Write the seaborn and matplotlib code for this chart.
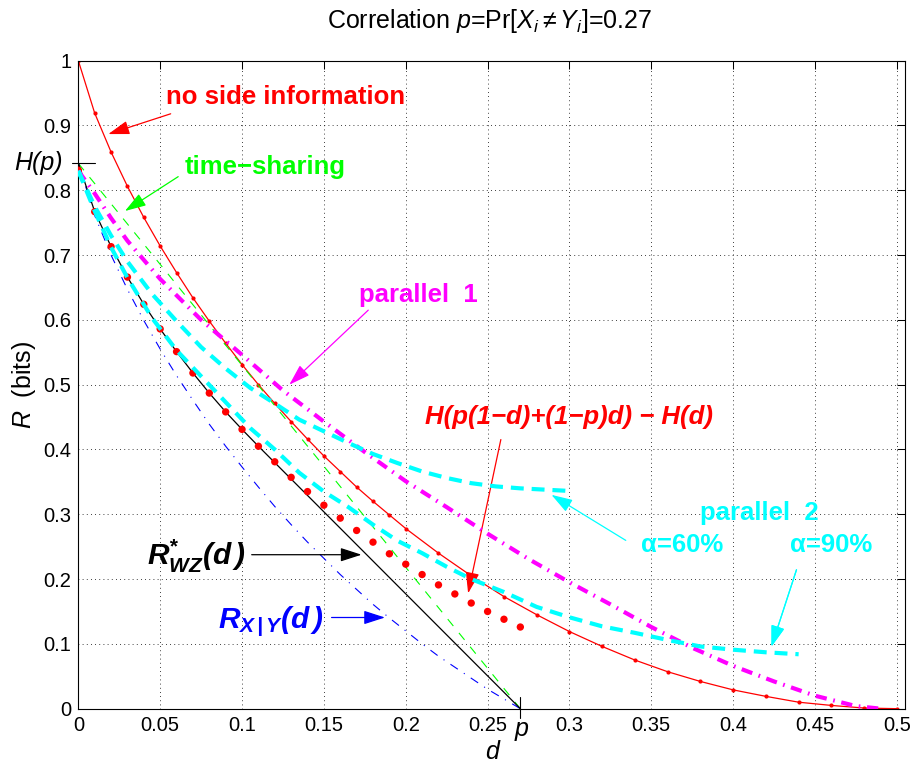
import matplotlib
matplotlib.use("Agg")
import matplotlib.pyplot as plt
import seaborn as sns

p = 0.27
Hp = 0.8415

# no side information: 1 - H(d)
d_noside = [0, 0.01, 0.02, 0.03, 0.04, 0.05, 0.06, 0.07, 0.08, 0.09, 0.10,
            0.11, 0.12, 0.13, 0.14, 0.15, 0.16, 0.17, 0.18, 0.19, 0.20,
            0.22, 0.24, 0.26, 0.28, 0.30, 0.32, 0.34, 0.36, 0.38, 0.40,
            0.42, 0.44, 0.46, 0.48, 0.50]
r_noside = [1.0, 0.919, 0.859, 0.806, 0.758, 0.714, 0.673, 0.634, 0.598, 0.564, 0.531,
            0.500, 0.471, 0.443, 0.416, 0.390, 0.366, 0.342, 0.320, 0.299, 0.278,
            0.240, 0.205, 0.173, 0.145, 0.119, 0.096, 0.075, 0.057, 0.042, 0.029,
            0.019, 0.010, 0.005, 0.001, 0.0]

# H(p(1-d)+(1-p)d) - H(d), big dots
d_g = [0.00, 0.01, 0.02, 0.03, 0.04, 0.05, 0.06, 0.07, 0.08, 0.09, 0.10, 0.11, 0.12, 0.13,
       0.14, 0.15, 0.16, 0.17, 0.18, 0.19, 0.20, 0.21, 0.22, 0.23, 0.24, 0.25, 0.26, 0.27]
r_g = [0.831, 0.767, 0.713, 0.666, 0.624, 0.586, 0.551, 0.518, 0.487, 0.458, 0.431, 0.405,
       0.381, 0.357, 0.335, 0.314, 0.294, 0.275, 0.257, 0.239, 0.223, 0.207, 0.191, 0.177,
       0.163, 0.150, 0.138, 0.126]

# R*_WZ(d)
d_wz = [0.00, 0.01, 0.02, 0.03, 0.04, 0.05, 0.06, 0.07, 0.08, 0.09, 0.10, 0.11, 0.27]
r_wz = [0.842, 0.767, 0.713, 0.666, 0.624, 0.586, 0.551, 0.518, 0.487, 0.458, 0.431, 0.405, 0.0]

# R_X|Y(d)
d_xy = [0.00, 0.01, 0.02, 0.03, 0.04, 0.05, 0.06, 0.07, 0.08, 0.09, 0.10, 0.11, 0.12, 0.13,
        0.14, 0.15, 0.16, 0.17, 0.18, 0.19, 0.20, 0.21, 0.22, 0.23, 0.24, 0.25, 0.26, 0.27]
r_xy = [0.842, 0.761, 0.700, 0.647, 0.599, 0.555, 0.514, 0.476, 0.439, 0.405, 0.373, 0.342,
        0.312, 0.284, 0.257, 0.232, 0.207, 0.184, 0.161, 0.140, 0.120, 0.100, 0.081, 0.064,
        0.047, 0.030, 0.015, 0.0]

# time-sharing
d_ts = [0.0, p]
r_ts = [Hp, 0.0]

# parallel 1
d_par1 = [0, 0.01, 0.02, 0.03, 0.05, 0.075, 0.10, 0.125, 0.15, 0.175, 0.20, 0.225,
          0.25, 0.275, 0.30, 0.325, 0.35, 0.375, 0.40, 0.425, 0.45, 0.475, 0.49]
r_par1 = [0.83, 0.795, 0.757, 0.722, 0.663, 0.600, 0.546, 0.491, 0.443, 0.396, 0.351, 0.311,
          0.270, 0.231, 0.195, 0.161, 0.126, 0.094, 0.066, 0.042, 0.020, 0.004, 0.0]

# parallel 2, alpha = 60%
d_par2a = [0, 0.01, 0.02, 0.03, 0.045, 0.06, 0.075, 0.09, 0.105, 0.12, 0.135, 0.15, 0.165,
           0.18, 0.195, 0.21, 0.225, 0.24, 0.255, 0.27, 0.285, 0.30]
r_par2a = [0.83, 0.775, 0.73, 0.69, 0.64, 0.598, 0.558, 0.525, 0.495, 0.471, 0.446, 0.428,
           0.410, 0.393, 0.379, 0.366, 0.356, 0.348, 0.343, 0.340, 0.338, 0.336]

# parallel 2, alpha = 90%
d_par2b = [0, 0.01, 0.02, 0.03, 0.045, 0.06, 0.075, 0.09, 0.105, 0.12, 0.135, 0.15, 0.165,
           0.18, 0.195, 0.21, 0.225, 0.24, 0.26, 0.28, 0.30, 0.32, 0.34, 0.36, 0.38, 0.40,
           0.42, 0.44]
r_par2b = [0.83, 0.768, 0.712, 0.665, 0.603, 0.553, 0.513, 0.473, 0.433, 0.400, 0.364, 0.335,
           0.311, 0.284, 0.259, 0.240, 0.219, 0.200, 0.180, 0.157, 0.141, 0.127, 0.117, 0.106,
           0.096, 0.091, 0.087, 0.084]

xticks = [0, 0.05, 0.1, 0.15, 0.2, 0.25, 0.3, 0.35, 0.4, 0.45, 0.5]
xticklabels = ["0", "0.05", "0.1", "0.15", "0.2", "0.25", "0.3", "0.35", "0.4", "0.45", "0.5"]
yticks = [0, 0.1, 0.2, 0.3, 0.4, 0.5, 0.6, 0.7, 0.8, 0.9, 1]
yticklabels = ["0", "0.1", "0.2", "0.3", "0.4", "0.5", "0.6", "0.7", "0.8", "0.9", "1"]


sns.set_style("white")
plt.rcParams["font.family"] = ["Liberation Sans", "DejaVu Sans"]
plt.rcParams["text.color"] = "black"
plt.rcParams["axes.labelcolor"] = "black"
plt.rcParams["xtick.color"] = "black"
plt.rcParams["ytick.color"] = "black"
plt.rcParams["mathtext.fontset"] = "custom"
plt.rcParams["mathtext.rm"] = "Liberation Sans"
plt.rcParams["mathtext.it"] = "Liberation Sans:italic"
plt.rcParams["mathtext.bf"] = "Liberation Sans:bold"
plt.rcParams["mathtext.bfit"] = "Liberation Sans:italic:bold"

fig = plt.figure(figsize=(9.14, 7.63), dpi=100)
ax = fig.add_axes([0.0857, 0.0712, 0.9045, 0.8493])

GREEN = (0, 1, 0)
CYAN = (0, 1, 1)
MAGENTA = (1, 0, 1)

sns.lineplot(x=d_noside, y=r_noside, ax=ax, color="red", lw=0.9, marker="o",
             markersize=3.0, markeredgewidth=0)
sns.lineplot(x=d_ts, y=r_ts, ax=ax, color=GREEN, lw=0.8, linestyle=(0, (8, 8)))
sns.lineplot(x=d_xy, y=r_xy, ax=ax, color="blue", lw=0.8, linestyle=(0, (8, 6.5, 1, 6.5)))
sns.lineplot(x=d_wz, y=r_wz, ax=ax, color="black", lw=0.9)
sns.scatterplot(x=d_g, y=r_g, ax=ax, color="red", s=28, edgecolor="none", zorder=3)
sns.lineplot(x=d_par1, y=r_par1, ax=ax, color=MAGENTA, lw=3,
             linestyle=(0, (2.7, 1.6, 0.4, 1.6)), zorder=4)
sns.lineplot(x=d_par2a, y=r_par2a, ax=ax, color=CYAN, lw=3, linestyle=(0, (3.1, 1.9)), zorder=4)
sns.lineplot(x=d_par2b, y=r_par2b, ax=ax, color=CYAN, lw=3, linestyle=(0, (3.1, 1.9)), zorder=4)

ax.set_xlim(0, 0.505)
ax.set_ylim(0, 1)
ax.set_xticks(xticks)
ax.set_xticklabels(xticklabels)
ax.set_yticks(yticks)
ax.set_yticklabels(yticklabels)
ax.tick_params(which="major", direction="in", length=5.8, width=0.75, top=True, right=True,
               labelsize=14.5, pad=5, colors="black")
ax.grid(True, which="major", color="black", lw=0.6, linestyle=(0, (1, 4)))
ax.set_axisbelow(True)
for s in ax.spines.values():
    s.set_linewidth(0.8)
    s.set_color("black")

# special ticks at H(p) and p
ax.plot([-0.008, 0.020], [Hp, Hp], transform=ax.get_yaxis_transform(), clip_on=False,
        color="black", lw=0.8)
ax.text(-0.019, Hp, "H(p)", transform=ax.get_yaxis_transform(), ha="right", va="center",
        fontsize=18, fontstyle="italic")
ax.plot([p, p], [-0.015, 0.0185], transform=ax.get_xaxis_transform(), clip_on=False,
        color="black", lw=0.8)
ax.text(p + 0.001, -0.013, "p", transform=ax.get_xaxis_transform(), ha="center", va="top",
        fontsize=18, fontstyle="italic")

ax.set_xlabel("d", fontsize=18, fontstyle="italic")
ax.xaxis.set_label_coords(0.5, -0.049)
ax.set_ylabel("$R$  (bits)", fontsize=18)
ax.yaxis.set_label_coords(-0.049, 0.5)

fig.text(489.5 / 914, 1 - 28.3 / 763, r"Correlation $p$=Pr[$X_i\neq Y_i$]=0.27",
         ha="center", va="baseline", fontsize=18)

# annotations
def note(txt, xytext, color, tip, start, size=18.5, **kw):
    ax.text(xytext[0], xytext[1], txt, color=color, fontsize=size, fontweight="bold",
            ha="left", va="baseline", **kw)
    ax.annotate("", xy=tip, xytext=start,
                arrowprops=dict(arrowstyle="-|>,head_length=1.3,head_width=0.42",
                                color=color, lw=0.9, shrinkA=0, shrinkB=0,
                                mutation_scale=10))

note("no side information", (0.0534, 0.933), "red", (0.0183, 0.8867), (0.0564, 0.918))
note("time\u2212sharing", (0.0652, 0.8246), GREEN, (0.0285, 0.768), (0.061, 0.821))
note("parallel  1", (0.1714, 0.628), MAGENTA, (0.1289, 0.500), (0.1771, 0.615))
note("H(p(1\u2212d)+(1\u2212p)d) \u2212 H(d)", (0.2117, 0.440), "red",
     (0.2381, 0.178), (0.2581, 0.4153), fontstyle="italic")
note("parallel  2", (0.3796, 0.2917), CYAN, (0.289, 0.330), (0.3344, 0.2597))
note("\u03b1=60%", (0.344, 0.2417), CYAN, (0.4234, 0.0958), (0.4387, 0.2144))
note("\u03b1=90%", (0.4346, 0.2417), CYAN, (0.4234, 0.0958), (0.4387, 0.2144))
note(r"$\mathbfit{R}^{\mathbfit{*}}_{\mathbfit{WZ}}\mathbfit{(d\,)}$", (0.0418, 0.2221),
     "black", (0.173, 0.2376), (0.1059, 0.2376), size=21.5)
note(r"$\mathbfit{R}_{\mathbfit{X\,|\,Y}}\mathbfit{(d\,)}$", (0.0855, 0.1243),
     "blue", (0.1873, 0.1407), (0.1547, 0.1407), size=21.5)

fig.savefig("out.png", dpi=100)
